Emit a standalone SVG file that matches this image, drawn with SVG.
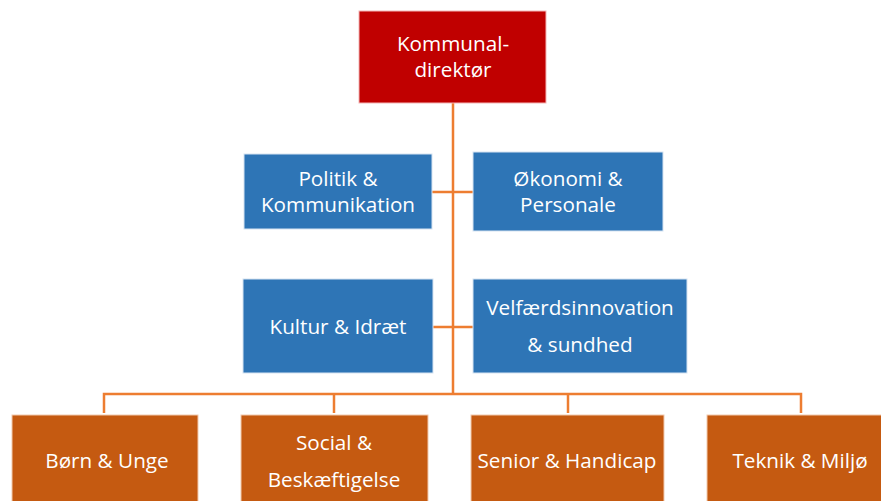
<svg xmlns="http://www.w3.org/2000/svg" width="881" height="501" viewBox="0 0 881 501">
<style>
  .red { fill: #C00000; stroke: #F4B6B6; stroke-width: 1; }
  .blue { fill: #2E75B6; stroke: #D6E4F2; stroke-width: 1; }
  .org { fill: #C55A11; stroke: #F2C9AE; stroke-width: 1; }
  .t { font-family: "Open Sans", "Noto Sans", sans-serif; font-size: 20.7px; fill: #FFFFFF; text-anchor: middle; }
  .c { fill: none; stroke: #ED7D31; stroke-width: 2.5; }
</style>
<rect width="881" height="501" fill="#FFFFFF"/>
<g id="connectors">
  <path class="c" d="M453 103 V394"/>
  <path class="c" d="M432 192 H473"/>
  <path class="c" d="M433 327 H473"/>
  <path class="c" d="M104 413 V394 H801 V413"/>
  <path class="c" d="M334 394 V413"/>
  <path class="c" d="M568 394 V413"/>
</g>
<g id="kommunaldirektor">
  <rect class="red" x="359" y="11" width="187" height="92"/>
  <text class="t" x="453" y="51">Kommunal-</text>
  <text class="t" x="453" y="77">direktør</text>
</g>
<g id="politik">
  <rect class="blue" x="244" y="154" width="188" height="75"/>
  <text class="t" x="338" y="186">Politik &amp;</text>
  <text class="t" x="338" y="212">Kommunikation</text>
</g>
<g id="okonomi">
  <rect class="blue" x="473" y="152" width="190" height="79"/>
  <text class="t" x="568" y="186">Økonomi &amp;</text>
  <text class="t" x="568" y="212">Personale</text>
</g>
<g id="kultur">
  <rect class="blue" x="243" y="279" width="190" height="94"/>
  <text class="t" x="338" y="334">Kultur &amp; Idræt</text>
</g>
<g id="velfaerd">
  <rect class="blue" x="473" y="279" width="214" height="94"/>
  <text class="t" x="580" y="315">Velfærdsinnovation</text>
  <text class="t" x="580" y="352">&amp; sundhed</text>
</g>
<g id="born">
  <rect class="org" x="12" y="415" width="186" height="95"/>
  <text class="t" x="107" y="468">Børn &amp; Unge</text>
</g>
<g id="social">
  <rect class="org" x="241" y="415" width="187" height="95"/>
  <text class="t" x="334" y="450">Social &amp;</text>
  <text class="t" x="334" y="487">Beskæftigelse</text>
</g>
<g id="senior">
  <rect class="org" x="471" y="415" width="193" height="95"/>
  <text class="t" x="567" y="468">Senior &amp; Handicap</text>
</g>
<g id="teknik">
  <rect class="org" x="707" y="415" width="190" height="95"/>
  <text class="t" x="800" y="468">Teknik &amp; Miljø</text>
</g>
</svg>
